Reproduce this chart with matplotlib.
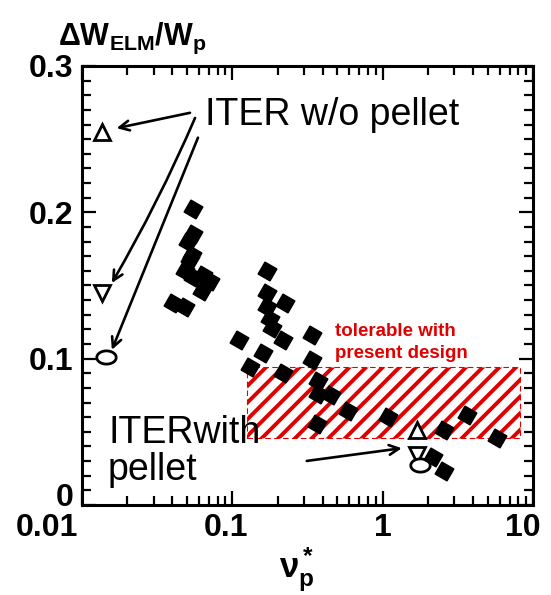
import numpy as np
import matplotlib
matplotlib.use("Agg")
import matplotlib.pyplot as plt
from matplotlib.patches import Rectangle
from matplotlib.path import Path
from matplotlib.transforms import ScaledTranslation

plt.rcParams['font.family'] = ['Liberation Sans', 'DejaVu Sans']
plt.rcParams['mathtext.fontset'] = 'custom'
plt.rcParams['mathtext.rm'] = 'Liberation Sans'
plt.rcParams['mathtext.bf'] = 'Liberation Sans:bold'
plt.rcParams['mathtext.it'] = 'Liberation Sans:italic'
plt.rcParams['hatch.linewidth'] = 2.8

# --- dados ---
exp_nu = [0.0548, 0.0548, 0.0507, 0.0539, 0.0523, 0.0484, 0.0548, 0.0638,
          0.0711, 0.0629, 0.0403, 0.0484,
          0.170, 0.170, 0.224, 0.170, 0.178, 0.185, 0.111, 0.217, 0.339,
          0.160, 0.131, 0.339, 0.217, 0.372, 0.372, 0.454, 0.366, 0.589,
          1.086, 3.64, 2.56, 5.77, 2.16, 2.56]
exp_dw = [0.202, 0.185, 0.180, 0.171, 0.168, 0.160, 0.156, 0.157,
          0.153, 0.146, 0.138, 0.135,
          0.160, 0.145, 0.138, 0.135, 0.127, 0.121, 0.113, 0.113, 0.116,
          0.104, 0.094, 0.099, 0.090, 0.085, 0.076, 0.075, 0.055, 0.064,
          0.060, 0.0615, 0.051, 0.046, 0.033, 0.023]

# ITER sem pellet: triangulo, triangulo invertido, circulo
iter_nu = [0.0135, 0.0135, 0.0144]
iter_dw = [0.255, 0.145, 0.101]
# ITER com pellet
pel_nu = [1.69, 1.69, 1.77]
pel_dw = [0.051, 0.034, 0.027]

# faixa toleravel
tol_nu = [0.125, 8.2]
tol_dw = [0.0456, 0.0945]

RED = '#e00000'

fig = plt.figure(figsize=(5.51, 5.95), dpi=100)
fig.patch.set_facecolor('white')
ax = fig.add_axes([0.1488, 0.1513, 0.8185, 0.7378])
ax.set_xscale('log')
ax.set_xlim(0.01, 10)
ax.set_ylim(0, 0.3)

# regiao hachurada
rect = Rectangle((tol_nu[0], tol_dw[0]), tol_nu[1] - tol_nu[0], tol_dw[1] - tol_dw[0],
                 facecolor='white', edgecolor=RED, hatch='//', linewidth=0.8,
                 linestyle=(0, (5, 3)), zorder=1)
ax.add_patch(rect)

# diamantes experimentais
ax.plot(exp_nu, exp_dw, linestyle='none', marker=(4, 0, 15), markersize=14,
        color='black', markeredgecolor='black', zorder=3)

# elipse para o circulo aberto
t = np.linspace(0, 2 * np.pi, 60)
ellipse = Path(np.column_stack([np.cos(t), 0.68 * np.sin(t)]))

mk = [('^', 11), ('v', 11), (ellipse, 14)]
for (m, s), xv, yv in zip(mk, iter_nu, iter_dw):
    ax.plot([xv], [yv], linestyle='none', marker=m, markersize=s, markerfacecolor='white',
            markeredgecolor='black', markeredgewidth=2, zorder=4)
for (m, s), xv, yv in zip(mk, pel_nu, pel_dw):
    ax.plot([xv], [yv], linestyle='none', marker=m, markersize=s, markerfacecolor='white',
            markeredgecolor='black', markeredgewidth=2, zorder=2.5)

# textos
ax.text(0.0658, 0.2597, 'ITER w/o pellet', fontsize=27, ha='left', va='baseline', zorder=5)
ax.text(0.0149, 0.0424, 'ITERwith', fontsize=27, ha='left', va='baseline', zorder=5)
ax.text(0.0149, 0.0171, 'pellet', fontsize=27, ha='left', va='baseline', zorder=5)
ax.text(0.482, 0.1155, 'tolerable with', fontsize=13.5, weight='bold', color=RED,
        ha='left', va='baseline', zorder=5)
ax.text(0.482, 0.1003, 'present design', fontsize=13.5, weight='bold', color=RED,
        ha='left', va='baseline', zorder=5)

# setas
arr = dict(arrowstyle='->,head_length=0.7,head_width=0.35', color='black', lw=1.9,
           shrinkA=0, shrinkB=0)
ax.annotate('', xy=(0.0170, 0.2575), xytext=(0.0523, 0.268), arrowprops=arr, zorder=5)
ax.annotate('', xy=(0.0158, 0.1517), xytext=(0.0565, 0.2645),
            arrowprops=dict(arr, connectionstyle='arc3,rad=-0.03'), zorder=5)
ax.annotate('', xy=(0.0158, 0.106), xytext=(0.0591, 0.251), arrowprops=arr, zorder=5)
ax.annotate('', xy=(1.34, 0.0388), xytext=(0.3126, 0.0301), arrowprops=arr, zorder=5)

# eixos
for sp in ax.spines.values():
    sp.set_linewidth(2.2)
ax.set_yticks([0, 0.1, 0.2, 0.3])
ax.set_yticklabels(['0', '0.1', '0.2', '0.3'])
ax.set_yticks(np.arange(0, 0.301, 0.01), minor=True)
ax.set_xticks([0.01, 0.1, 1, 10])
ax.set_xticklabels(['0.01', '0.1', '1', '10'])
ax.tick_params(which='both', direction='in', top=True, right=True, width=1.6)
ax.tick_params(which='major', length=10, labelsize=23, pad=6)
ax.tick_params(which='minor', length=6.5)
for lbl in ax.get_xticklabels() + ax.get_yticklabels():
    lbl.set_fontweight('bold')

# deslocamentos dos rotulos (em pixels)
x_shift = [-35, -6, 0, -10]
for lbl, dx in zip(ax.get_xticklabels(), x_shift):
    lbl.set_transform(lbl.get_transform() + ScaledTranslation(dx / 100, 0, fig.dpi_scale_trans))
y_lbl0 = ax.get_yticklabels()[0]
y_lbl0.set_transform(y_lbl0.get_transform() + ScaledTranslation(0, 10 / 100, fig.dpi_scale_trans))

fig.text(58 / 551, 1 - 38 / 595, r'$\mathbf{\Delta W_{ELM}/W_p}$', fontsize=22,
         ha='left', va='center')
fig.text(297 / 551, 1 - 570 / 595, r'$\mathbf{\nu_p^*}$', fontsize=25,
         ha='center', va='center')

fig.savefig('out.png', dpi=100)
